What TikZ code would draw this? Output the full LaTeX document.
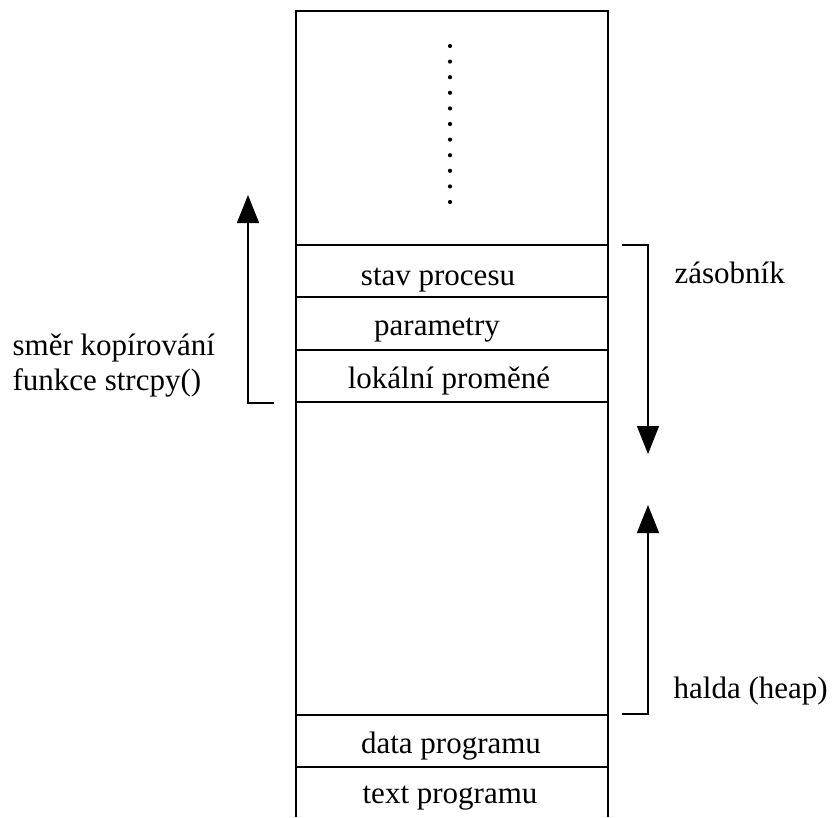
\documentclass[tikz,border=0pt]{standalone}
\usepackage{fontspec}
\setmainfont{Liberation Serif}
\usetikzlibrary{arrows.meta}

\begin{document}
\begin{tikzpicture}[x=1pt,y=-1pt,line width=1.3pt,
	lbl/.style={font=\fontsize{31}{36}\selectfont, anchor=base, inner sep=0pt},
	side/.style={lbl, anchor=base west},
	tip/.style={-{Triangle[length=28pt,width=22pt]}}]
	\useasboundingbox (0,0) rectangle (834,817);
	% memory block
	\draw (296,817) -- (296,11) -- (608,11) -- (608,817);
	\foreach \y in {245,297,350,402,715,767}
		\draw (296,\y) -- (608,\y);
	\foreach \i in {0,...,10}
		\fill (450,46+15.6*\i) circle [radius = 2.1];
	\node[lbl] (stav) at (438,285) {stav procesu};
	\node[lbl] (param) at (437,335) {parametry};
	\node[lbl] (lokal) at (449,388) {lokální proměné};
	\node[lbl] (data) at (451,753) {data programu};
	\node[lbl] (text) at (450,803) {text programu};
	% labels at the sides
	\node[side] (smer) at (12,355) {směr kopírování};
	\node[side] (fce) at (12,390) {funkce strcpy()};
	\node[side] (zas) at (674,283) {zásobník};
	\node[side] (halda) at (673,698) {halda (heap)};
	% arrows
	\coordinate (cpyfoot) at (274,403);
	\coordinate (cpycorner) at (248,403);
	\coordinate (cpytip) at (248,195);
	\draw[tip] (cpyfoot) -- (cpycorner) -- (cpytip);
	\coordinate (zastop) at (622,245);
	\coordinate (zascorner) at (648,245);
	\coordinate (zastip) at (648,454);
	\draw[tip] (zastop) -- (zascorner) -- (zastip);
	\coordinate (haldafoot) at (622,714);
	\coordinate (haldacorner) at (648,714);
	\coordinate (haldatip) at (648,505);
	\draw[tip] (haldafoot) -- (haldacorner) -- (haldatip);
\end{tikzpicture}
\end{document}
